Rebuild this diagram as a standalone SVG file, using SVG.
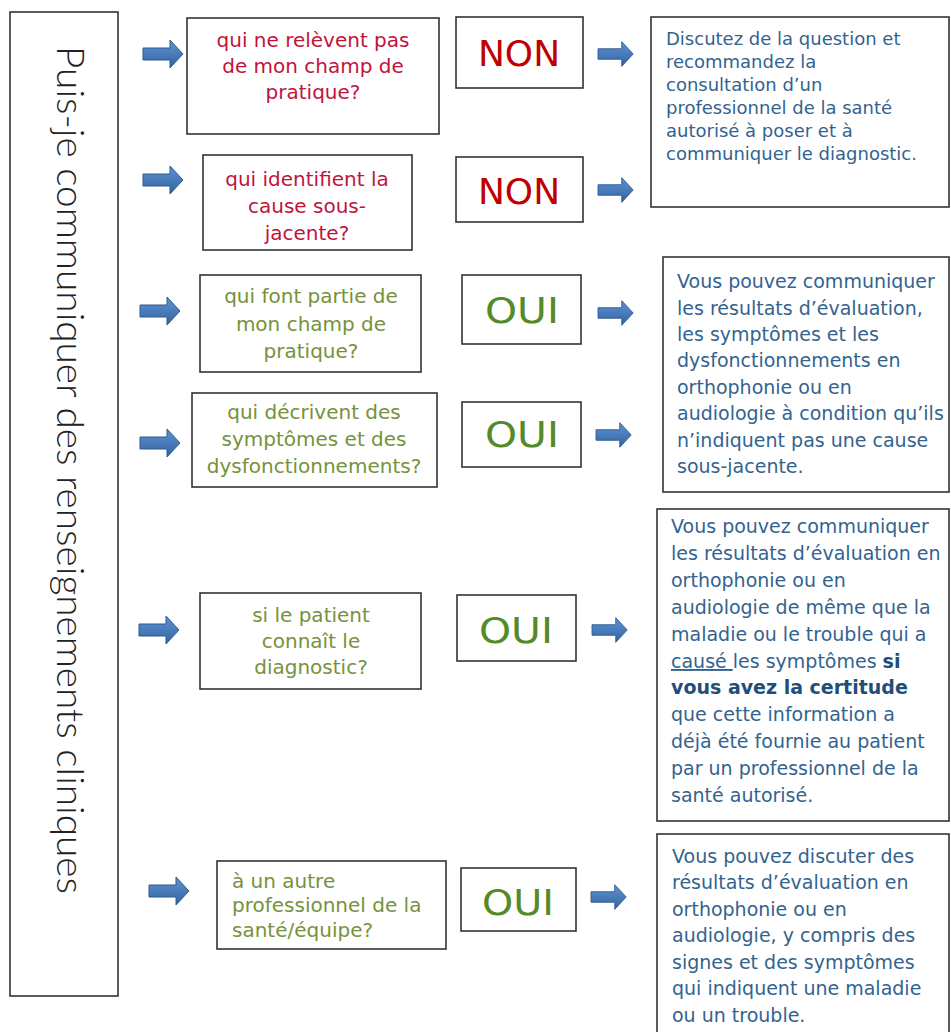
<svg xmlns="http://www.w3.org/2000/svg" width="951" height="1032" viewBox="0 0 951 1032">
<defs>
<linearGradient id="ag" x1="0" y1="0" x2="0" y2="1">
<stop offset="0" stop-color="#5f93d3"/>
<stop offset="1" stop-color="#33649f"/>
</linearGradient>
<path id="arr" d="M0,-6 L27,-6 L27,-14 L40,0 L27,14 L27,6 L0,6 Z" fill="url(#ag)" stroke="#2f5b8e" stroke-width="1"/>
</defs>
<style>
.box{fill:#fff;stroke:#333;stroke-width:1.6}
.q{font-family:"DejaVu Sans",Verdana,sans-serif;font-size:20px;text-anchor:middle}
.red{fill:#c0143c}
.grn{fill:#76923c}
.non{font-family:"DejaVu Sans",Verdana,sans-serif;font-size:36px;fill:#c00000;text-anchor:middle}
.oui{font-family:"DejaVu Sans",Verdana,sans-serif;font-size:35px;fill:#558a26;text-anchor:middle}
.r{font-family:"DejaVu Sans",Verdana,sans-serif;font-size:19px;fill:#33638f}
.r1{font-size:18px}
.b{font-weight:bold;fill:#1f4e79}
.title{font-family:Lato,"Open Sans",sans-serif;font-size:38px;font-weight:300;fill:#222}
</style>
<rect width="951" height="1032" fill="#fff"/>

<g id="title">
<rect class="box" x="10" y="12" width="108" height="984"/>
<text class="title" transform="translate(57,46) rotate(90)" textLength="848" lengthAdjust="spacingAndGlyphs">Puis-je communiquer des renseignements cliniques</text>
</g>

<g id="q1"><rect class="box" x="187" y="18" width="252" height="116"/>
<text class="q red"><tspan x="313" y="47">qui ne relèvent pas</tspan><tspan x="313" y="73">de mon champ de</tspan><tspan x="313" y="99">pratique?</tspan></text></g>
<g id="q2"><rect class="box" x="203" y="155" width="209" height="95"/>
<text class="q red"><tspan x="307" y="186">qui identifient la</tspan><tspan x="307" y="213">cause sous-</tspan><tspan x="307" y="240">jacente?</tspan></text></g>
<g id="q3"><rect class="box" x="200" y="275" width="221" height="97"/>
<text class="q grn"><tspan x="311" y="303">qui font partie de</tspan><tspan x="311" y="331">mon champ de</tspan><tspan x="311" y="358">pratique?</tspan></text></g>
<g id="q4"><rect class="box" x="192" y="393" width="245" height="94"/>
<text class="q grn"><tspan x="314" y="419">qui décrivent des</tspan><tspan x="314" y="446">symptômes et des</tspan><tspan x="314" y="473">dysfonctionnements?</tspan></text></g>
<g id="q5"><rect class="box" x="200" y="593" width="221" height="96"/>
<text class="q grn"><tspan x="311" y="622">si le patient</tspan><tspan x="311" y="648">connaît le</tspan><tspan x="311" y="674">diagnostic?</tspan></text></g>
<g id="q6"><rect class="box" x="217" y="861" width="229" height="88"/>
<text class="q grn" style="text-anchor:start"><tspan x="232" y="888">à un autre</tspan><tspan x="232" y="912">professionnel de la</tspan><tspan x="232" y="937">santé/équipe?</tspan></text></g>

<g id="a1"><rect class="box" x="456" y="17" width="127" height="71"/><text class="non" x="519" y="66">NON</text></g>
<g id="a2"><rect class="box" x="456" y="157" width="127" height="65"/><text class="non" x="519" y="204">NON</text></g>
<g id="a3"><rect class="box" x="462" y="275" width="119" height="69"/><text class="oui" x="522" y="323" textLength="74" lengthAdjust="spacingAndGlyphs">OUI</text></g>
<g id="a4"><rect class="box" x="462" y="402" width="119" height="65"/><text class="oui" x="522" y="447" textLength="74" lengthAdjust="spacingAndGlyphs">OUI</text></g>
<g id="a5"><rect class="box" x="457" y="595" width="119" height="66"/><text class="oui" x="516" y="643" textLength="74" lengthAdjust="spacingAndGlyphs">OUI</text></g>
<g id="a6"><rect class="box" x="461" y="868" width="115" height="63"/><text class="oui" x="518" y="915" textLength="72" lengthAdjust="spacingAndGlyphs">OUI</text></g>

<g id="r1"><rect class="box" x="651" y="17" width="298" height="190"/>
<text class="r r1"><tspan x="666" y="45">Discutez de la question et</tspan><tspan x="666" y="68">recommandez la</tspan><tspan x="666" y="91">consultation d’un</tspan><tspan x="666" y="114">professionnel de la santé</tspan><tspan x="666" y="137">autorisé à poser et à</tspan><tspan x="666" y="160">communiquer le diagnostic.</tspan></text></g>

<g id="r2"><rect class="box" x="663" y="257" width="286" height="235"/>
<text class="r"><tspan x="677" y="288">Vous pouvez communiquer</tspan><tspan x="677" y="314.5">les résultats d’évaluation,</tspan><tspan x="677" y="341">les symptômes et les</tspan><tspan x="677" y="367">dysfonctionnements en</tspan><tspan x="677" y="394">orthophonie ou en</tspan><tspan x="677" y="420">audiologie à condition qu’ils</tspan><tspan x="677" y="447">n’indiquent pas une cause</tspan><tspan x="677" y="473">sous-jacente.</tspan></text></g>

<g id="r3"><rect class="box" x="657" y="509" width="292" height="312"/>
<text class="r"><tspan x="671" y="533">Vous pouvez communiquer</tspan><tspan x="671" y="560">les résultats d’évaluation en</tspan><tspan x="671" y="587">orthophonie ou en</tspan><tspan x="671" y="614">audiologie de même que la</tspan><tspan x="671" y="641">maladie ou le trouble qui a</tspan><tspan x="671" y="668" text-decoration="underline">causé </tspan><tspan>les symptômes </tspan><tspan class="b">si</tspan><tspan x="671" y="694" class="b">vous avez la certitude</tspan><tspan x="671" y="721">que cette information a</tspan><tspan x="671" y="748">déjà été fournie au patient</tspan><tspan x="671" y="775">par un professionnel de la</tspan><tspan x="671" y="802">santé autorisé.</tspan></text></g>

<g id="r4"><rect class="box" x="657" y="834" width="292" height="210"/>
<text class="r"><tspan x="672" y="863">Vous pouvez discuter des</tspan><tspan x="672" y="889">résultats d’évaluation en</tspan><tspan x="672" y="916">orthophonie ou en</tspan><tspan x="672" y="942">audiologie, y compris des</tspan><tspan x="672" y="969">signes et des symptômes</tspan><tspan x="672" y="995">qui indiquent une maladie</tspan><tspan x="672" y="1022">ou un trouble.</tspan></text></g>

<g id="connectors">
<use href="#arr" transform="translate(143,54)"/>
<use href="#arr" transform="translate(143,180)"/>
<use href="#arr" transform="translate(140,311)"/>
<use href="#arr" transform="translate(140,443)"/>
<use href="#arr" transform="translate(139,630)"/>
<use href="#arr" transform="translate(149,891)"/>
<use href="#arr" transform="translate(598,54) scale(0.88)"/>
<use href="#arr" transform="translate(598,190) scale(0.88)"/>
<use href="#arr" transform="translate(598,313) scale(0.88)"/>
<use href="#arr" transform="translate(596,435) scale(0.88)"/>
<use href="#arr" transform="translate(592,630) scale(0.88)"/>
<use href="#arr" transform="translate(591,897) scale(0.88)"/>
</g>
</svg>
